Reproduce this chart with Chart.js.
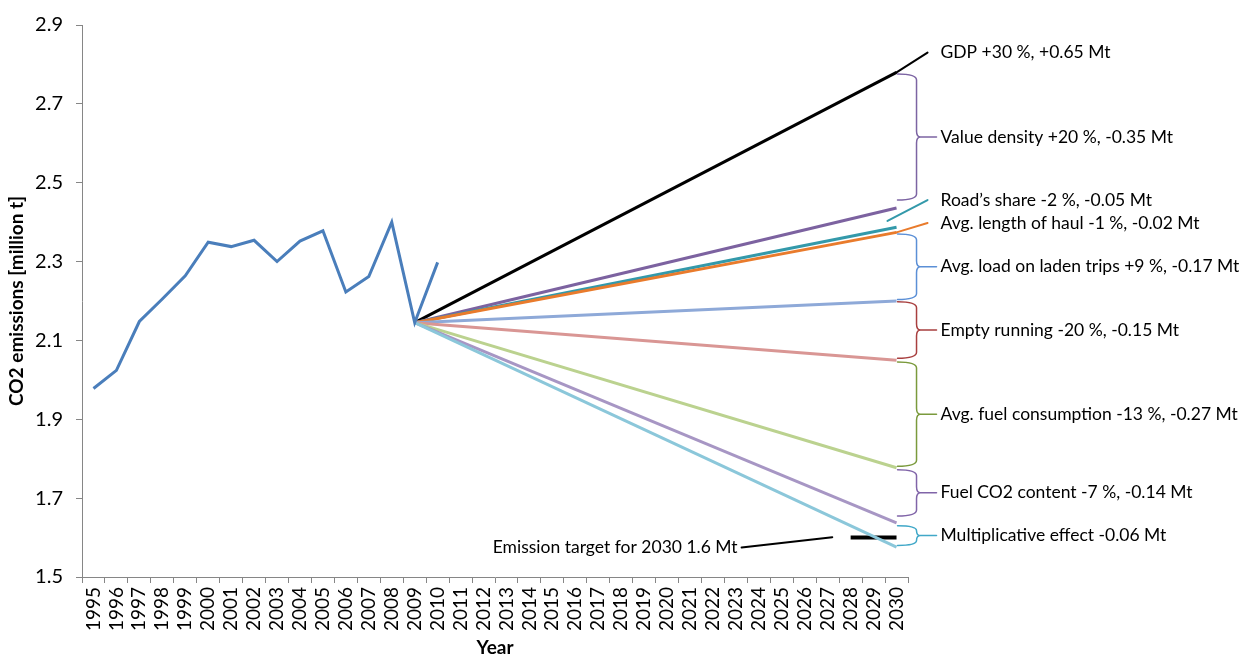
<!DOCTYPE html>
<html>
<head>
<meta charset="utf-8">
<script src="https://cdn.jsdelivr.net/npm/chart.js@4.4.1/dist/chart.umd.min.js"></script>
<style>
  html, body { margin: 0; padding: 0; background: #fff; }
  canvas { display: block; }
</style>
</head>
<body>
<canvas id="emissionsChart" width="1255" height="658"></canvas>
<script>
// categories and tick labels
const years = ["1995", "1996", "1997", "1998", "1999", "2000", "2001", "2002", "2003",
    "2004", "2005", "2006", "2007", "2008", "2009", "2010", "2011", "2012", "2013",
    "2014", "2015", "2016", "2017", "2018", "2019", "2020", "2021", "2022", "2023",
    "2024", "2025", "2026", "2027", "2028", "2029", "2030"];
const yTicks = [1.5, 1.7, 1.9, 2.1, 2.3, 2.5, 2.7, 2.9];

// observed emissions 1995-2010
const historic = [1.978, 2.024, 2.148, 2.205, 2.264, 2.349, 2.338, 2.354, 2.300,
    2.352, 2.378, 2.223, 2.262, 2.400, 2.145, 2.298];

// scenario lines, 2009 -> 2030
const projectionYears = ["2009", "2030"];
const gdp = [2.145, 2.780];
const valueDensity = [2.145, 2.436];
const roadShare = [2.145, 2.387];
const haulLength = [2.145, 2.374];
const ladenLoad = [2.145, 2.200];
const emptyRunning = [2.145, 2.050];
const fuelConsumption = [2.145, 1.777];
const fuelCo2 = [2.145, 1.637];
const multiplicative = [2.145, 1.576];

// emission target
const targetYears = ["2028", "2030"];
const target = [1.6, 1.6];

const FONT = "Lato, 'Open Sans', sans-serif";

function points(xs, ys) {
    return xs.map(function (yr, i) { return { x: yr, y: ys[i] }; });
}

function line(label, data, color, width) {
    return {
        label: label,
        data: data,
        borderColor: color,
        backgroundColor: color,
        borderWidth: width || 3,
        pointRadius: 0,
        tension: 0,
        spanGaps: true
    };
}

// braces on the right side (value ranges at 2030)
const braces = [
    { text: "Value density +20 %, -0.35 Mt", top: 2.776, bottom: 2.456, color: "#7C64A3" },
    { text: "Avg. load on laden trips +9 %, -0.17 Mt", top: 2.370, bottom: 2.204, color: "#5B8FD6" },
    { text: "Empty running -20 %, -0.15 Mt", top: 2.198, bottom: 2.055, color: "#A83F3F" },
    { text: "Avg. fuel consumption -13 %, -0.27 Mt", top: 2.045, bottom: 1.781, color: "#7A9A3C" },
    { text: "Fuel CO2 content -7 %, -0.14 Mt", top: 1.772, bottom: 1.655, color: "#8064A8" },
    { text: "Multiplicative effect -0.06 Mt", top: 1.630, bottom: 1.580, color: "#41A8C8" }
];

// leader lines with labels: start (offset px from 2030, value) -> end value
const leaders = [
    { text: "GDP +30 %, +0.65 Mt", dx0: 0, v0: 2.780, v1: 2.830, color: "#000000" },
    { text: "Road\u2019s share -2 %, -0.05 Mt", dx0: -9, v0: 2.403, v1: 2.456, color: "#3399AA" },
    { text: "Avg. length of haul -1 %, -0.02 Mt", dx0: 0, v0: 2.374, v1: 2.398, color: "#E97B2C" }
];

const annotationPlugin = {
    id: "annotations",
    afterDraw: function (chart) {
        const ctx = chart.ctx;
        const xs = chart.scales.x;
        const ys = chart.scales.y;
        const area = chart.chartArea;
        const x0 = xs.getPixelForValue(years.indexOf("2030"));

        ctx.save();
        ctx.lineCap = "round";
        ctx.lineJoin = "round";
        ctx.fillStyle = "#000";
        ctx.font = "17.5px " + FONT;
        ctx.textBaseline = "middle";
        ctx.textAlign = "left";

        // leaders
        leaders.forEach(function (l) {
            const y1 = ys.getPixelForValue(l.v1);
            ctx.strokeStyle = l.color;
            ctx.lineWidth = 2;
            ctx.beginPath();
            ctx.moveTo(x0 + l.dx0, ys.getPixelForValue(l.v0));
            ctx.lineTo(x0 + 31, y1);
            ctx.stroke();
            ctx.fillText(l.text, x0 + 44, y1);
        });

        // braces
        braces.forEach(function (b) {
            const yt = ys.getPixelForValue(b.top);
            const yb = ys.getPixelForValue(b.bottom);
            const ym = (yt + yb) / 2;
            const x1 = x0 + 20;
            const r = Math.min(6, (yb - yt) / 4);
            ctx.strokeStyle = b.color;
            ctx.lineWidth = 1.5;
            ctx.beginPath();
            ctx.moveTo(x0 + 1, yt);
            ctx.quadraticCurveTo(x1, yt, x1, yt + r);
            ctx.lineTo(x1, ym - r);
            ctx.quadraticCurveTo(x1, ym, x1 + 4, ym);
            ctx.quadraticCurveTo(x1, ym, x1, ym + r);
            ctx.lineTo(x1, yb - r);
            ctx.quadraticCurveTo(x1, yb, x0 + 1, yb);
            ctx.moveTo(x1 + 4, ym);
            ctx.lineTo(x0 + 40, ym);
            ctx.stroke();
            ctx.fillText(b.text, x0 + 44, ym);
        });

        // emission target label
        const tx = xs.getPixelForValue(17.4);
        const ty = ys.getPixelForValue(1.575);
        ctx.fillText("Emission target for 2030 1.6 Mt", tx, ty);
        const tw = ctx.measureText("Emission target for 2030 1.6 Mt").width;
        ctx.strokeStyle = "#000";
        ctx.lineWidth = 2;
        ctx.beginPath();
        ctx.moveTo(tx + tw + 4, ty);
        ctx.lineTo(xs.getPixelForValue(32.2), ys.getPixelForValue(1.601));
        ctx.stroke();

        // axis titles
        ctx.font = "bold 19px " + FONT;
        ctx.textAlign = "center";
        ctx.fillText("Year", (area.left + area.right) / 2, 648);
        ctx.translate(17, (area.top + area.bottom) / 2);
        ctx.rotate(-Math.PI / 2);
        ctx.fillText("CO2 emissions [million t]", 0, 0);
        ctx.restore();
    }
};

const canvas = document.getElementById("emissionsChart");
new Chart(canvas, {
    type: "line",
    data: {
        labels: years,
        datasets: [
            line("Observed", historic, "#4A7EBB"),
            line("Multiplicative effect", points(projectionYears, multiplicative), "#8BC7DA"),
            line("Fuel CO2 content", points(projectionYears, fuelCo2), "#A796C4"),
            line("Avg. fuel consumption", points(projectionYears, fuelConsumption), "#BBD28F"),
            line("Empty running", points(projectionYears, emptyRunning), "#D99694"),
            line("Avg. load on laden trips", points(projectionYears, ladenLoad), "#8EA9D8"),
            line("Avg. length of haul", points(projectionYears, haulLength), "#E97B2C"),
            line("Road's share", points(projectionYears, roadShare), "#3399AA"),
            line("Value density", points(projectionYears, valueDensity), "#7C62A0"),
            line("GDP", points(projectionYears, gdp), "#000000"),
            line("Emission target", points(targetYears, target), "#000000", 4)
        ]
    },
    options: {
        responsive: false,
        animation: false,
        devicePixelRatio: 1,
        layout: { padding: { top: 19, right: 347, left: 0, bottom: 0 } },
        plugins: {
            legend: { display: false },
            tooltip: { enabled: false }
        },
        scales: {
            x: {
                offset: true,
                afterFit: function (scale) { scale.height = 81; },
                grid: { offset: true, drawOnChartArea: false, tickLength: 6, color: "#868686" },
                border: { color: "#868686", width: 1 },
                ticks: {
                    autoSkip: false,
                    maxRotation: 90,
                    minRotation: 90,
                    padding: 4,
                    color: "#000",
                    font: { family: FONT, size: 19 }
                }
            },
            y: {
                min: 1.5,
                max: 2.9,
                afterFit: function (scale) { scale.width = 82; },
                afterBuildTicks: function (scale) {
                    scale.ticks = yTicks.map(function (v) { return { value: v }; });
                },
                grid: { drawOnChartArea: false, tickLength: 6, color: "#868686" },
                border: { color: "#868686", width: 1 },
                ticks: {
                    padding: 13,
                    color: "#000",
                    font: { family: FONT, size: 20 },
                    callback: function (v) { return Number(v).toFixed(1); }
                }
            }
        }
    },
    plugins: [annotationPlugin]
});
</script>
</body>
</html>
